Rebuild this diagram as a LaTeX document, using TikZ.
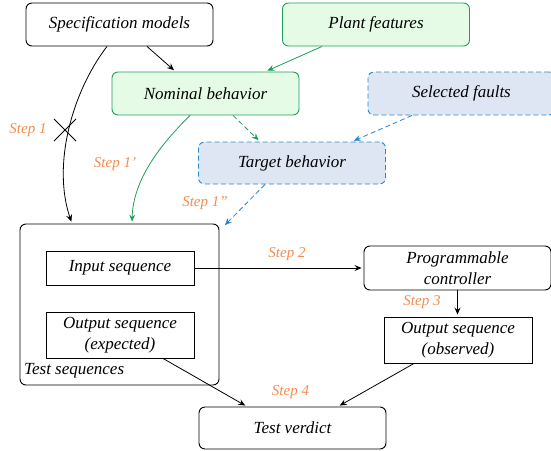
\documentclass[tikz,border=0pt]{standalone}
\usepackage{fontspec}
\setmainfont{Liberation Serif}
\usetikzlibrary{arrows.meta,calc}
\definecolor{grborder}{RGB}{30,160,90}
\definecolor{grfill}{RGB}{229,251,229}
\definecolor{blborder}{RGB}{40,135,205}
\definecolor{blfill}{RGB}{222,230,243}
\definecolor{steporange}{RGB}{243,140,80}
\tikzset{
  box/.style={draw=black, line width=0.9pt, rounded corners=6pt, minimum width=187pt, minimum height=43pt, inner sep=0pt, align=center, font=\fontsize{17}{21}\selectfont\itshape},
  greenbox/.style={box, draw=grborder, fill=grfill},
  bluebox/.style={box, draw=blborder, fill=blfill, dashed, dash pattern=on 5pt off 3pt},
  sqbox/.style={box, rounded corners=0pt, minimum width=148pt},
  steplbl/.style={text=steporange, font=\fontsize{15}{18}\selectfont\itshape, inner sep=0pt},
  arr/.style={-{Stealth[length=7pt,width=6pt,inset=2.5pt]}, line width=0.8pt, shorten >=2pt},
  garr/.style={arr, draw=grborder},
  barr/.style={arr, draw=blborder},
  dsh/.style={dash pattern=on 5pt off 3pt},
}
\begin{document}
\begin{tikzpicture}[x=1pt,y=-1pt]
\useasboundingbox (0,0) rectangle (551,450);
\node[box] (spec) at (119.5,24.5) {Specification models};
\node[greenbox] (plant) at (376,24.5) {Plant features};
\node[greenbox] (nominal) at (205.5,93.5) {Nominal behavior};
\node[bluebox] (faults) at (461.5,93.5) {Selected faults};
\node[bluebox, minimum height=42pt] (target) at (292,163) {Target behavior};
\node[box, minimum width=199pt, minimum height=161pt] (testseq) at (119.5,304.5) {};
\node[sqbox, minimum height=34pt] (input) at (120,268) {Input sequence};
\node[sqbox, minimum height=46pt] (outexp) at (120,335) {Output sequence\\(expected)};
\node[anchor=west, inner sep=0pt, font=\fontsize{17}{21}\selectfont\itshape] (tslbl) at (24,370.5) {Test sequences};
\node[box, minimum height=42pt] (verdict) at (292.5,428) {Test verdict};
\node[box, minimum height=44pt] (prog) at (457.5,268) {Programmable\\controller};
\node[sqbox, minimum height=46pt] (outobs) at (458,340) {Output sequence\\(observed)};

% connectors
\draw[arr] ([xshift=27.5pt]spec.south) -- ([xshift=-30pt]nominal.north);
\draw[garr] ([xshift=-54pt]plant.south) -- ([xshift=60pt]nominal.north);
\draw[garr, dsh] ([xshift=27.5pt]nominal.south) -- ([xshift=-32pt]target.north);
\draw[barr, dsh] ([xshift=-49.5pt]faults.south) -- ([xshift=60pt]target.north);
\draw[barr, dsh] ([xshift=-27pt]target.south) -- ([xshift=4pt,yshift=-3pt]testseq.north east);
\coordinate (cross) at (65,130);
\draw[arr] ([xshift=-12.5pt]spec.south) .. controls (72,92) and (52,165) .. ([xshift=-47.5pt]testseq.north);
\draw[line width=0.8pt] ([shift={(-11,-11)}]cross) -- ([shift={(11,11)}]cross);
\draw[line width=0.8pt] ([shift={(-11,11)}]cross) -- ([shift={(11,-11)}]cross);
\draw[garr] ([xshift=-15.5pt]nominal.south) .. controls (160,145) and (133,180) .. ([xshift=12.5pt]testseq.north);
\draw[arr] (input.east) -- (prog.west);
\draw[arr] (prog.south) -- (prog.south |- outobs.north);
\draw[arr] ([xshift=43pt]outexp.south) -- ([xshift=-45.5pt]verdict.north);
\draw[arr] ([xshift=-44pt]outobs.south) -- ([xshift=45.5pt]verdict.north);

% step labels
\node[steplbl] (s1) at (28,130) {Step 1};
\node[steplbl] (s1a) at (115,164) {Step 1’};
\node[steplbl] (s1b) at (205,203) {Step 1”};
\node[steplbl] (s2) at (287,254) {Step 2};
\node[steplbl] (s3) at (422,302) {Step 3};
\node[steplbl] (s4) at (290.5,392) {Step 4};
\end{tikzpicture}
\end{document}
